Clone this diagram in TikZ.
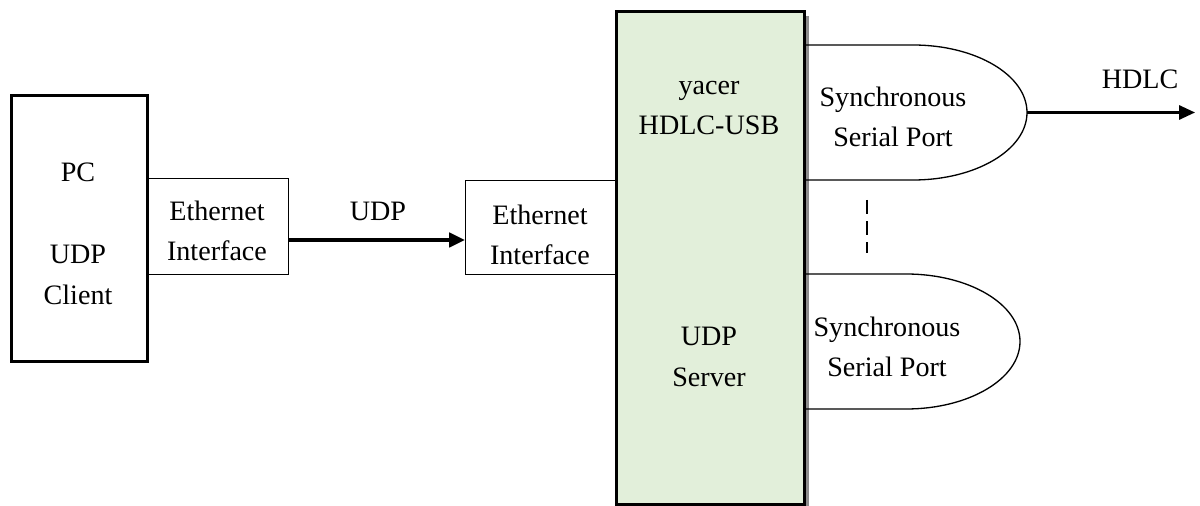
\documentclass[tikz,border=0pt]{standalone}
\usepackage{fontspec}
\setmainfont{Liberation Serif}
\usetikzlibrary{arrows.meta}
\definecolor{boxgreen}{HTML}{E2EFDA}
\begin{document}
\begin{tikzpicture}[x=0.02cm,y=-0.02cm,
  txt/.style={font=\fontsize{16}{23}\selectfont, align=center, inner sep=0pt},
  thickbox/.style={draw, line width=1.7pt},
  thinbox/.style={draw, line width=0.75pt},
  portline/.style={line width=0.75pt},
  conn/.style={line width=2.2pt, -{Triangle[length=9pt,width=8pt]}},
  hconn/.style={line width=1.4pt, -{Triangle[length=9pt,width=8pt]}}]
\useasboundingbox (0,0) rectangle (1200,506);
% PC box
\node[thickbox, minimum width=136*0.02cm, minimum height=266*0.02cm, anchor=north west, inner sep=0pt] (pc) at (10,94) {};
\node[txt] (pct) at (78,172) {PC};
\node[txt] (pcu) at (78,275) {UDP\\Client};
% Ethernet 1
\node[thinbox, minimum width=142*0.02cm, minimum height=96*0.02cm, anchor=north west, inner sep=0pt] (eth1) at (146,178) {};
\node[txt] (eth1t) at (217,231) {Ethernet\\Interface};
% Ethernet 2
\node[thinbox, minimum width=150*0.02cm, minimum height=94*0.02cm, anchor=north west, inner sep=0pt] (eth2) at (465,180) {};
\node[txt] (eth2t) at (540,235) {Ethernet\\Interface};
% shadow + green box
\fill[gray!90] (620,16) rectangle (809,506);
\node[thickbox, fill=boxgreen, minimum width=188*0.02cm, minimum height=493*0.02cm, anchor=north west, inner sep=0pt] (hdlc) at (615,10) {};
\node[txt] (hdlct) at (709,108) {yacer\\HDLC-USB};
\node[txt] (udps) at (709,357) {UDP\\Server};
% ports
\draw[portline] (804,45) -- (913,45) .. controls (976,45) and (1027,75.2) .. (1027,112.5)
  .. controls (1027,149.8) and (976,180) .. (913,180) -- (804,180);
\coordinate (p1) at (1027,112.5);
\node[txt] (p1t) at (893,117) {Synchronous\\Serial Port};
\draw[portline] (804,274) -- (906,274) .. controls (969,274) and (1020,304.2) .. (1020,341.5)
  .. controls (1020,378.8) and (969,409) .. (906,409) -- (804,409);
\node[txt] (p2t) at (887,347) {Synchronous\\Serial Port};
% dashed
\coordinate (d1) at (867,200);
\coordinate (d2) at (867,253);
\draw[line width=0.75pt, dash pattern=on 8pt off 4pt] (d1) -- (d2);
% arrows
\draw[conn] (eth1.east |- 0,240) -- (eth2.west |- 0,240);
\node[txt] (udpl) at (378,211) {UDP};
\coordinate (hend) at (1195,112.5);
\draw[hconn] (p1) -- (hend);
\node[txt] (hdlcl) at (1140,79) {HDLC};
\end{tikzpicture}
\end{document}
